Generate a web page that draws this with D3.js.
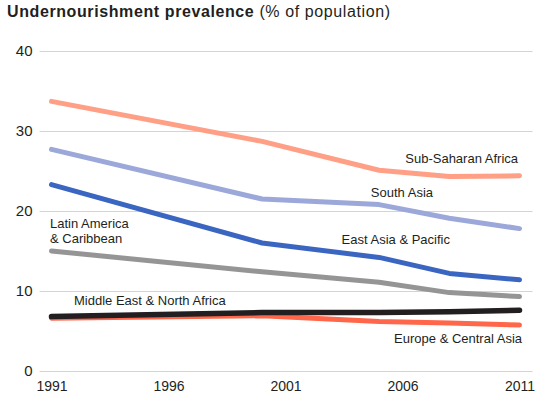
<!DOCTYPE html>
<html><head><meta charset="utf-8">
<script src="https://cdn.jsdelivr.net/npm/d3@7"></script>
<style>
body{margin:0;background:#fff;}
text{font-family:"Liberation Sans",Arial,sans-serif;fill:#231f20;}
</style></head><body>
<svg id="c" width="548" height="402"></svg>
<script>
const years = [1991, 2000, 2005, 2008, 2011];
const subSaharan = [33.7, 28.7, 25.1, 24.3, 24.4];
const southAsia = [27.7, 21.5, 20.8, 19.1, 17.8];
const eastAsia = [23.3, 16.0, 14.2, 12.2, 11.4];
const latinAmerica = [15.0, 12.4, 11.1, 9.8, 9.3];
const middleEast = [6.8, 7.3, 7.3, 7.4, 7.6];
const europe = [6.6, 6.9, 6.2, 6.0, 5.75];
const xTicks = [1991, 1996, 2001, 2006, 2011];
const yTicks = [0, 10, 20, 30, 40];

const series = [
  {name:"Latin America & Caribbean", values:latinAmerica, color:"#959595"},
  {name:"Europe & Central Asia", values:europe, color:"#ff664a"},
  {name:"Middle East & North Africa", values:middleEast, color:"#231f20"},
  {name:"East Asia & Pacific", values:eastAsia, color:"#3a66c2"},
  {name:"South Asia", values:southAsia, color:"#9ba8d9"},
  {name:"Sub-Saharan Africa", values:subSaharan, color:"#ff9f85"}
];

const svg = d3.select("#c");
const x = d3.scaleLinear().domain([1991, 2011]).range([51.5, 519.5]);
const y = d3.scaleLinear().domain([0, 40]).range([371, 51]);
const gridL = 39.5, gridR = 532.5;

// title
const t = svg.append("text").attr("x", 7).attr("y", 17).style("font-size", "16px").style("letter-spacing", "0.6px");
t.append("tspan").attr("font-weight", "bold").text("Undernourishment prevalence");
t.append("tspan").text(" (% of population)");

// grid + y axis
const yAxis = d3.axisLeft(y).tickValues(yTicks).tickSize(-(gridR - gridL)).tickPadding(7);
const gy = svg.append("g").attr("transform", `translate(${gridL},0)`).call(yAxis);
gy.select(".domain").remove();
gy.selectAll(".tick line").attr("stroke", "#d4d4d4").attr("stroke-width", 1);
gy.selectAll(".tick text").style("font-size", "15px").style("font-family", "'Liberation Sans',Arial,sans-serif").attr("fill", "#231f20");

// x axis
const xAxis = d3.axisBottom(x).tickValues(xTicks).tickFormat(d3.format("d")).tickSize(0).tickPadding(10);
const gx = svg.append("g").attr("transform", `translate(0,${y(0)})`).call(xAxis);
gx.select(".domain").remove();
gx.selectAll(".tick text").style("font-size", "14px").style("font-family", "'Liberation Sans',Arial,sans-serif").attr("fill", "#231f20");

// lines
const line = d3.line().x((d, i) => x(years[i])).y(d => y(d)).curve(d3.curveLinear);
svg.append("g").selectAll("path").data(series).join("path")
  .attr("d", d => line(d.values))
  .attr("fill", "none").attr("stroke", d => d.color)
  .attr("stroke-width", d => d.name.startsWith("Middle") ? 5.5 : 5)
  .attr("stroke-linecap", "round").attr("stroke-linejoin", "round");

// labels
const labels = [
  {lines:["Sub-Saharan Africa"], x:518, y:163, anchor:"end"},
  {lines:["South Asia"], x:433, y:197, anchor:"end"},
  {lines:["East Asia & Pacific"], x:450, y:244, anchor:"end"},
  {lines:["Latin America", "& Caribbean"], x:50, y:227.5, anchor:"start"},
  {lines:["Middle East & North Africa"], x:74, y:305, anchor:"start"},
  {lines:["Europe & Central Asia"], x:522, y:343, anchor:"end"}
];
labels.forEach(l => {
  const tx = svg.append("text").attr("x", l.x).attr("y", l.y).attr("text-anchor", l.anchor).style("font-size", "13px");
  l.lines.forEach((s, i) => tx.append("tspan").attr("x", l.x).attr("dy", i ? 15.7 : 0).text(s));
});
</script>
</body></html>
